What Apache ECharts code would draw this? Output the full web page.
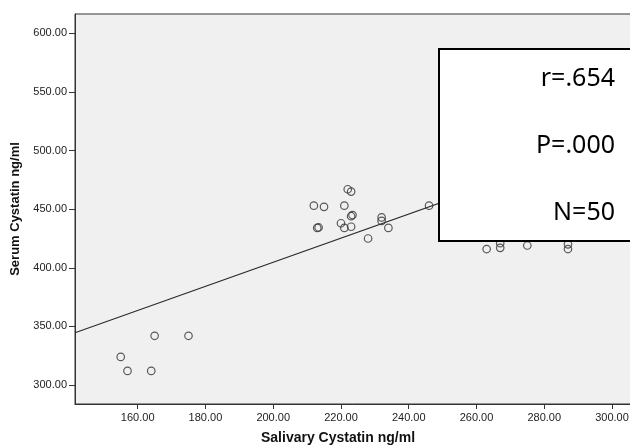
<!DOCTYPE html>
<html>
<head>
<meta charset="utf-8">
<script src="https://cdn.jsdelivr.net/npm/echarts@6/dist/echarts.min.js"></script>
<style>
html,body{margin:0;padding:0;background:#fff;}
#c{width:630px;height:446px;}
</style>
</head>
<body>
<div id="c"></div>
<script>
// Salivary Cystatin (x) and Serum Cystatin (y), ng/ml — visible points
const salivary = [165, 175, 155, 157, 164,
  222, 223, 212, 215, 221, 223, 223.4, 213, 213.4, 220, 221, 223, 232, 232, 234, 228, 246,
  263, 267, 267, 275, 287, 287];
const serum = [342, 342, 324, 312, 312,
  467, 465, 453, 452, 453, 444, 445, 434, 434.4, 438, 434, 435, 443, 440, 434, 425, 453,
  416, 417, 421, 419, 416, 420];
const xTicks = [160, 180, 200, 220, 240, 260, 280, 300];
const yTicks = [300, 350, 400, 450, 500, 550, 600];
const fitIntercept = 199.1;
const fitSlope = 1.028;
const stats = ['r=.654', 'P=.000', 'N=50'];
const xTitle = 'Salivary Cystatin ng/ml';
const yTitle = 'Serum Cystatin ng/ml';
const xRange = [141.5, 305.9];
const yRange = [283.8, 616.5];

const points = salivary.map((x, i) => [x, serum[i]]);
const fitLine = xRange.map(x => [x, fitIntercept + fitSlope * x]);

const chart = echarts.init(document.getElementById('c'), null, {renderer: 'canvas'});
const labelFont = {fontFamily: 'Liberation Sans', fontSize: 11, color: '#222'};
const nameFont = {fontFamily: 'Liberation Sans', fontSize: 13, fontWeight: 'bold', color: '#111'};

chart.setOption({
  animation: false,
  backgroundColor: '#fff',
  grid: {left: 75, top: 14, right: -2, bottom: 42, show: true, outerBoundsMode: 'none',
    backgroundColor: '#f0f0f0', borderColor: '#333', borderWidth: 1},
  xAxis: {
    type: 'value', min: xRange[0], max: xRange[1],
    axisLine: {show: true, lineStyle: {color: '#333', width: 1}},
    axisTick: {show: true, length: 5, inside: false, customValues: xTicks, lineStyle: {color: '#333'}},
    axisLabel: Object.assign({margin: 8, customValues: xTicks, formatter: v => v.toFixed(2)}, labelFont),
    splitLine: {show: false}
  },
  yAxis: {
    type: 'value', min: yRange[0], max: yRange[1],
    name: yTitle, nameLocation: 'middle', nameGap: 53,
    nameTextStyle: nameFont,
    axisLine: {show: true, lineStyle: {color: '#333', width: 1}},
    axisTick: {show: true, length: 6, inside: false, customValues: yTicks, lineStyle: {color: '#333'}},
    axisLabel: Object.assign({margin: 8, customValues: yTicks, formatter: v => v.toFixed(2)}, labelFont),
    splitLine: {show: false}
  },
  series: [
    {type: 'line', data: fitLine, symbol: 'none', silent: true,
     lineStyle: {color: '#2a2a2a', width: 1.1}, z: 2},
    {type: 'scatter', data: points, symbol: 'circle', symbolSize: 7.5,
     itemStyle: {color: 'rgba(0,0,0,0)', borderColor: '#333', borderWidth: 1.2}, z: 3}
  ],
  graphic: [
    {type: 'text', z: 50, x: 338, y: 438,
     style: {text: xTitle, align: 'center', verticalAlign: 'middle',
       font: 'bold 14px "Liberation Sans"', fill: '#111'}},
    {type: 'rect', z: 100, shape: {x: 439, y: 49, width: 220, height: 192},
     style: {fill: '#fff', stroke: '#000', lineWidth: 2}},
    {type: 'text', z: 101, x: 615, y: 79,
     style: {text: stats[0], align: 'right', verticalAlign: 'middle', font: '25px "Noto Sans"', fill: '#000'}},
    {type: 'text', z: 101, x: 615, y: 146,
     style: {text: stats[1], align: 'right', verticalAlign: 'middle', font: '25px "Noto Sans"', fill: '#000'}},
    {type: 'text', z: 101, x: 615, y: 213,
     style: {text: stats[2], align: 'right', verticalAlign: 'middle', font: '25px "Noto Sans"', fill: '#000'}}
  ]
});
</script>
</body>
</html>
